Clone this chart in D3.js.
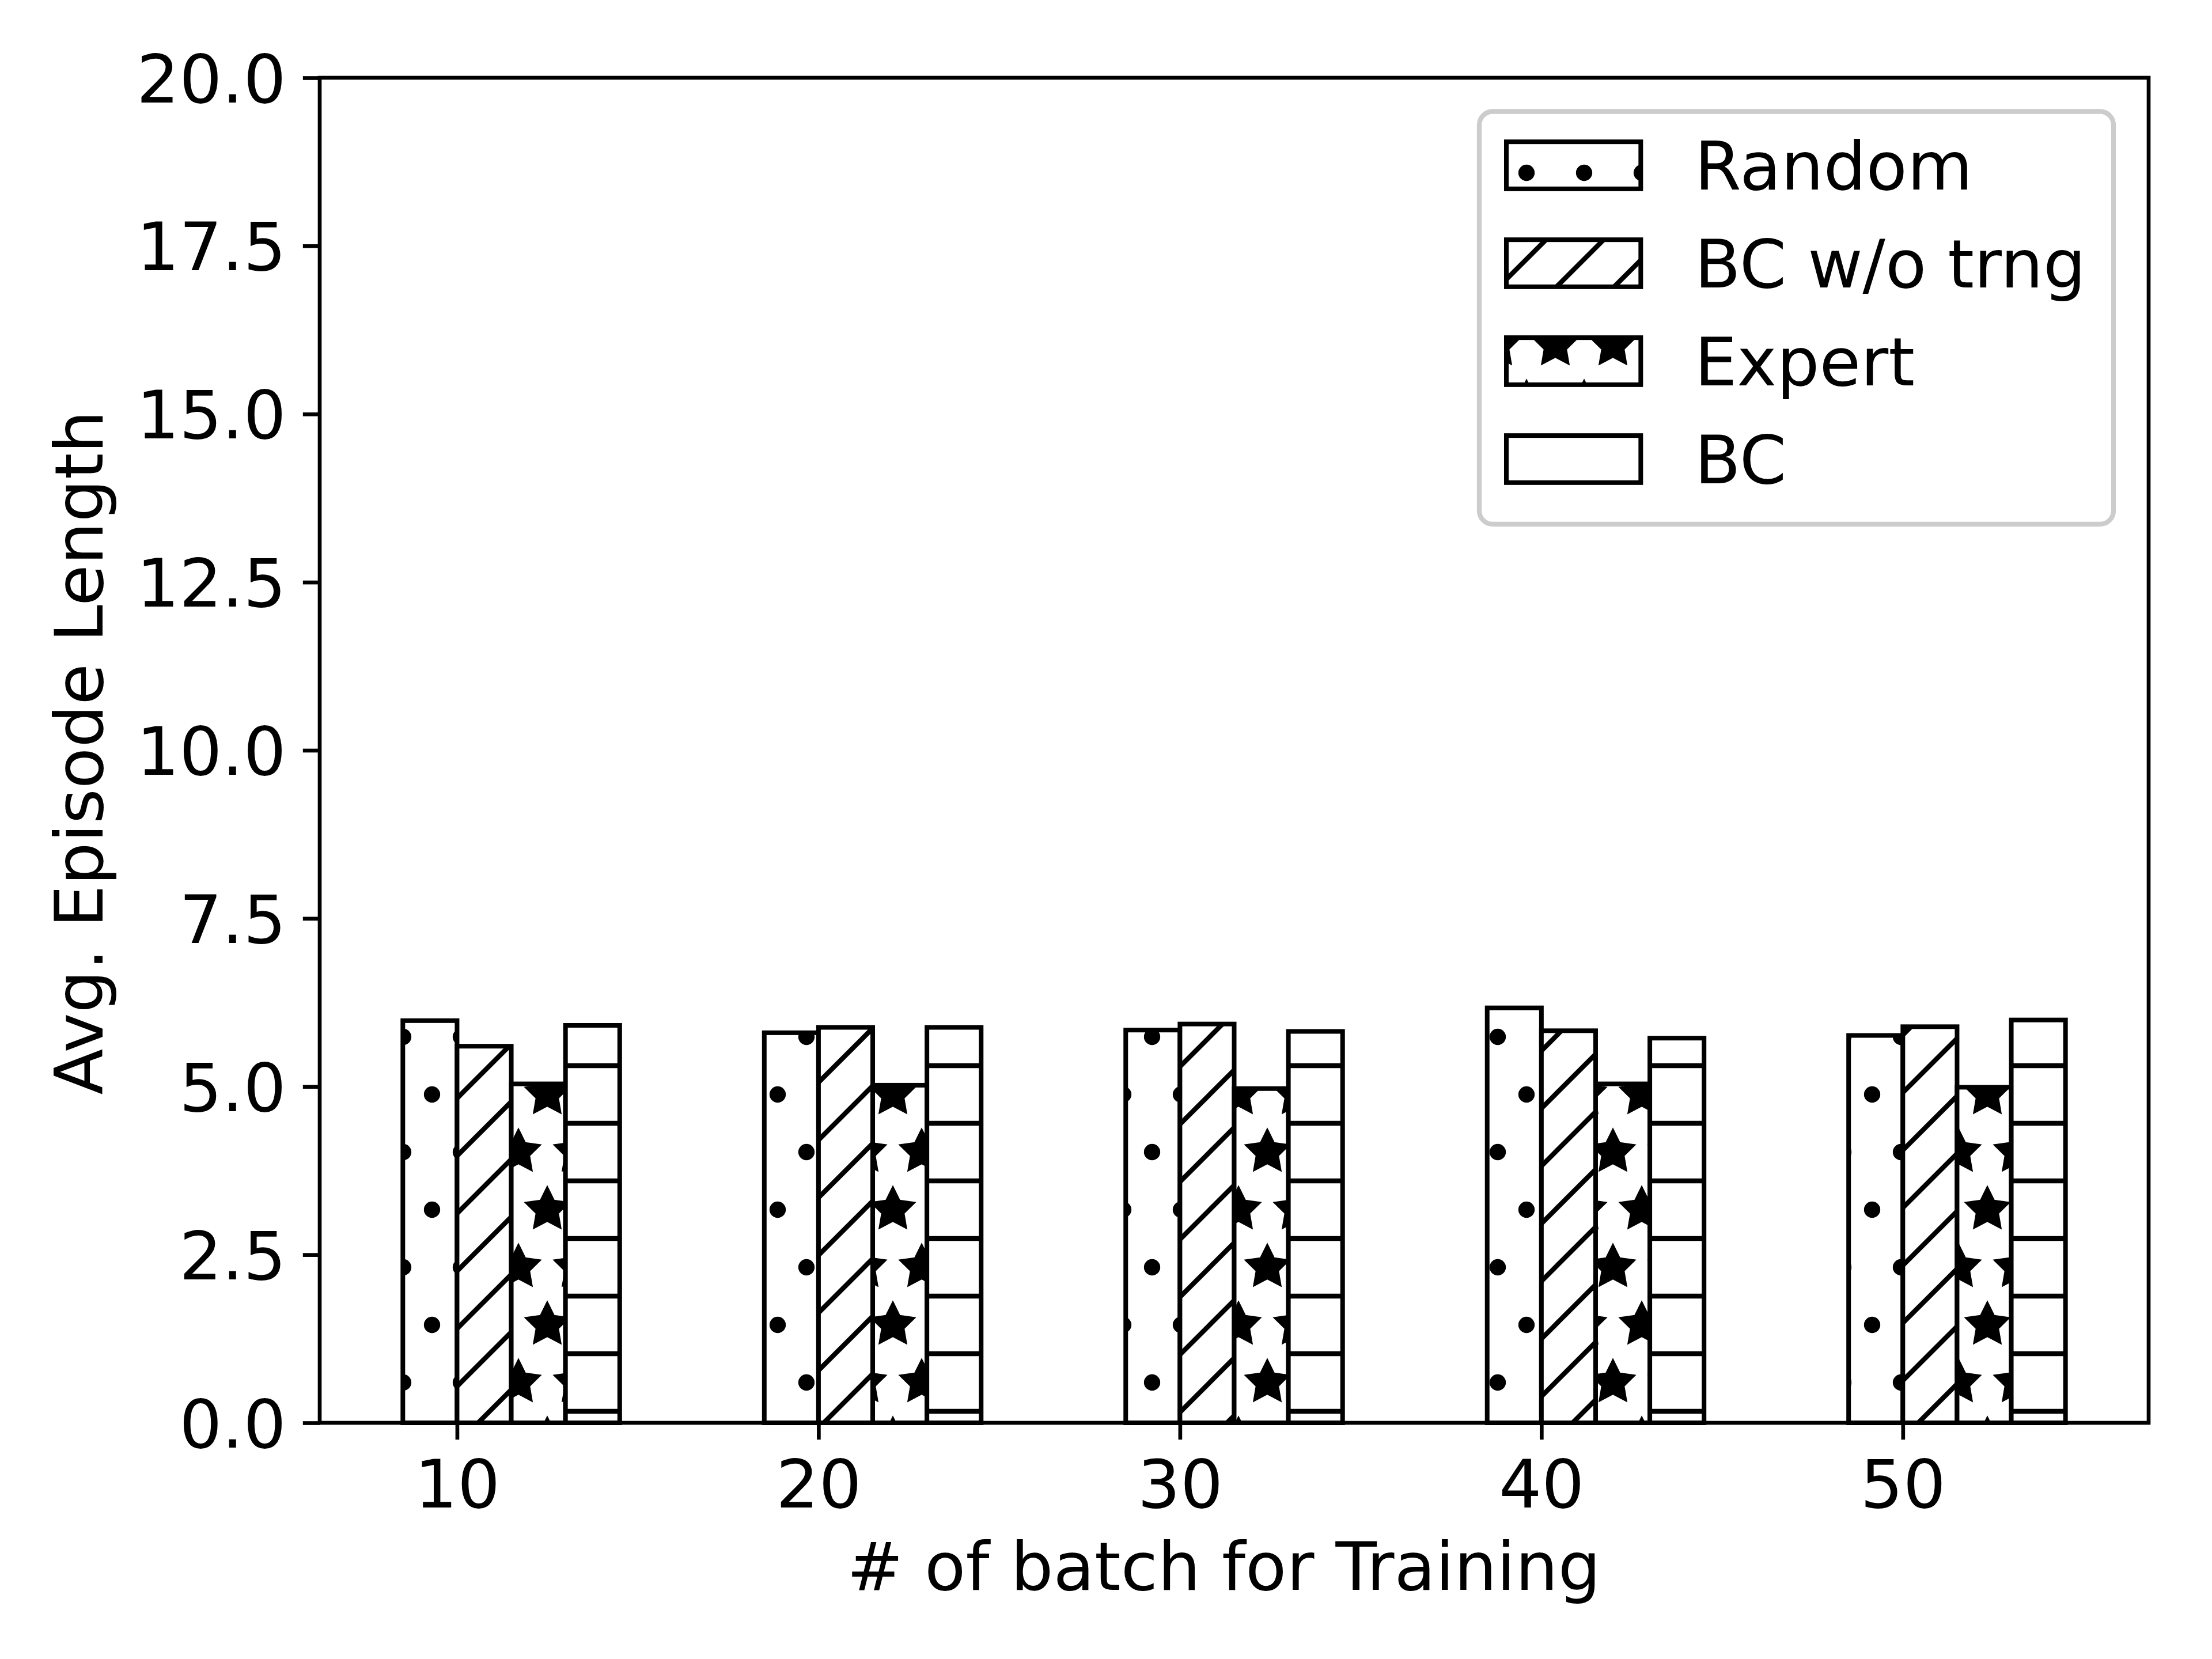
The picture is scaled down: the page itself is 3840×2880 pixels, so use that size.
<!DOCTYPE html>
<html><head><meta charset="utf-8">
<script src="https://cdn.jsdelivr.net/npm/d3@7"></script>
<style>html,body{margin:0;padding:0;background:#fff;} svg{display:block;}</style>
</head><body>
<script>
// ---- data ----
const categories = [10, 20, 30, 40, 50];
const seriesNames = ["Random", "BC w/o trng", "Expert", "BC"];
const randomVals   = [5.98, 5.80, 5.84, 6.17, 5.76];
const bcNoTrngVals = [5.60, 5.88, 5.93, 5.83, 5.89];
const expertVals   = [5.04, 5.02, 4.97, 5.04, 4.99];
const bcVals       = [5.91, 5.88, 5.82, 5.72, 5.99];
const yTicks = [0, 2.5, 5, 7.5, 10, 12.5, 15, 17.5, 20];
const xTicks = [10, 20, 30, 40, 50];
const xLabelText = "# of batch for Training";
const yLabelText = "Avg. Episode Length";

const seriesVals = [randomVals, bcNoTrngVals, expertVals, bcVals];
const patternIds = ["p-dots", "p-diag", "p-stars", "p-hline"];

// ---- layout ----
const W = 3840, H = 2880;
const L = 555, R = 3730, T = 135, B = 2470;
const PT = 600 / 72;             // px per point
const FS = 14 * PT;              // font size
const barW = 1.5;

const x = d3.scaleLinear().domain([6.2, 56.8]).range([L, R]);
const y = d3.scaleLinear().domain([0, 20]).range([B, T]);

const svg = d3.select("body").append("svg")
  .attr("width", W).attr("height", H)
  .attr("viewBox", `0 0 ${W} ${H}`)
  .style("font-family", "'DejaVu Sans', sans-serif");

svg.append("rect").attr("width", W).attr("height", H).attr("fill", "#fff");

// ---- hatch patterns (anchored at image origin) ----
const defs = svg.append("defs");
const hw = 1 * PT;

function starPath(cx, cy, r) {
  const pts = [];
  for (let k = 0; k < 10; k++) {
    const a = -Math.PI / 2 + k * Math.PI / 5;
    const rr = k % 2 === 0 ? r : r * 0.5;
    pts.push([cx + rr * Math.cos(a), cy + rr * Math.sin(a)]);
  }
  return "M" + pts.map(p => p.join(",")).join("L") + "Z";
}
const shapeCenters = [[0, 0], [100, 0], [0, 200], [100, 200], [50, 100]];

let p = defs.append("pattern").attr("id", "p-dots").attr("patternUnits", "userSpaceOnUse")
  .attr("x", 0).attr("y", 0).attr("width", 100).attr("height", 200);
p.append("rect").attr("width", 100).attr("height", 200).attr("fill", "#fff");
shapeCenters.forEach(c => p.append("circle").attr("cx", c[0]).attr("cy", c[1]).attr("r", 10)
  .attr("fill", "#000").attr("stroke", "#000").attr("stroke-width", hw));

p = defs.append("pattern").attr("id", "p-stars").attr("patternUnits", "userSpaceOnUse")
  .attr("x", 0).attr("y", 0).attr("width", 100).attr("height", 200);
p.append("rect").attr("width", 100).attr("height", 200).attr("fill", "#fff");
shapeCenters.forEach(c => p.append("path").attr("d", starPath(c[0], c[1], 100 / 3))
  .attr("fill", "#000").attr("stroke", "#000").attr("stroke-width", hw)
  .attr("stroke-linejoin", "miter").attr("stroke-miterlimit", 10));

p = defs.append("pattern").attr("id", "p-hline").attr("patternUnits", "userSpaceOnUse")
  .attr("x", 0).attr("y", 0).attr("width", 100).attr("height", 100);
p.append("rect").attr("width", 100).attr("height", 100).attr("fill", "#fff");
p.append("line").attr("x1", -5).attr("x2", 105).attr("y1", 50).attr("y2", 50)
  .attr("stroke", "#000").attr("stroke-width", hw);

p = defs.append("pattern").attr("id", "p-diag").attr("patternUnits", "userSpaceOnUse")
  .attr("x", 0).attr("y", 0).attr("width", 100).attr("height", 100);
p.append("rect").attr("width", 100).attr("height", 100).attr("fill", "#fff");
p.append("path").attr("d", "M-20,120L120,-20M-20,20L20,-20M80,120L120,80")
  .attr("stroke", "#000").attr("stroke-width", hw).attr("fill", "none");

// ---- bars ----
seriesVals.forEach((vals, si) => {
  const g = svg.append("g").attr("class", "series");
  const bx = d => x(categories[d.i] + (si - 1) * barW);
  const data = vals.map((v, i) => ({ v, i }));
  g.selectAll("rect.bar").data(data).join("rect").attr("class", "bar")
    .attr("x", bx)
    .attr("y", d => y(d.v))
    .attr("width", d => x(categories[d.i] + (si) * barW) - bx(d))
    .attr("height", d => y(0) - y(d.v))
    .attr("fill", `url(#${patternIds[si]})`)
    .attr("stroke", "#000").attr("stroke-width", 8);
});

// ---- axes ----
const yAxis = d3.axisLeft(y).tickValues(yTicks).tickFormat(d3.format(".1f"))
  .tickSize(3.5 * PT).tickPadding(3.5 * PT).tickSizeOuter(0);
const gy = svg.append("g").attr("transform", `translate(${L},0)`).call(yAxis);
const xAxis = d3.axisBottom(x).tickValues(xTicks).tickFormat(d3.format("d"))
  .tickSize(3.5 * PT).tickPadding(3.5 * PT).tickSizeOuter(0);
const gx = svg.append("g").attr("transform", `translate(0,${B})`).call(xAxis);
[gx, gy].forEach(g => {
  g.select(".domain").remove();
  g.selectAll(".tick line").attr("stroke", "#000").attr("stroke-width", 0.8 * PT);
  g.selectAll(".tick text").attr("fill", "#000").style("font-size", FS + "px")
    .style("font-family", "'DejaVu Sans', sans-serif");
});
gy.selectAll(".tick text").attr("dy", "0.36em");
gx.selectAll(".tick text").attr("dy", "0.76em");

// spines
svg.append("rect").attr("x", L).attr("y", T).attr("width", R - L).attr("height", B - T)
  .attr("fill", "none").attr("stroke", "#000").attr("stroke-width", 0.8 * PT);

// axis labels
svg.append("text").attr("x", (L + R) / 2 - 18).attr("y", 2760).attr("text-anchor", "middle")
  .style("font-size", FS + "px").attr("fill", "#000").text(xLabelText);
svg.append("text").attr("transform", `translate(178,${(T + B) / 2 + 4}) rotate(-90)`)
  .attr("text-anchor", "middle").style("font-size", FS + "px").attr("fill", "#000").text(yLabelText);

// ---- legend ----
const lg = svg.append("g");
lg.append("rect").attr("x", 2568).attr("y", 193.5).attr("width", 3669 - 2568).attr("height", 910 - 193.5)
  .attr("rx", 0.2 * FS).attr("ry", 0.2 * FS)
  .attr("fill", "#fff").attr("fill-opacity", 0.8)
  .attr("stroke", "#cccccc").attr("stroke-width", PT);
const legendY = [287, 457, 627, 797];
seriesNames.forEach((name, si) => {
  const cy = legendY[si];
  lg.append("rect").attr("x", 2615).attr("y", cy - 0.35 * FS).attr("width", 2 * FS).attr("height", 0.7 * FS)
    .attr("fill", `url(#${patternIds[si]})`).attr("stroke", "#000").attr("stroke-width", 8);
  lg.append("text").attr("x", 2615 + 2 * FS + 0.8 * FS).attr("y", cy + 42)
    .style("font-size", FS + "px").attr("fill", "#000").text(name);
});
</script>
</body></html>
